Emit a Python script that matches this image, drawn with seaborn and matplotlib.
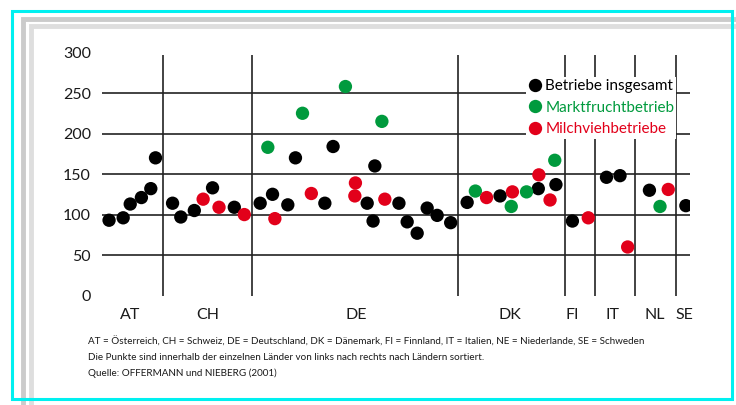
import pandas as pd
import matplotlib.pyplot as plt
import seaborn as sns
from matplotlib.patches import Rectangle

# Data (x = position along the axis, 0-100; y = value)
black_pos = [1.2, 3.6, 4.8, 6.7, 8.3, 9.1,
             12.0, 13.4, 15.7, 18.8, 22.5,
             26.9, 29.0, 31.6, 32.9, 37.9, 39.3, 45.1, 46.1, 46.4, 50.5, 51.9, 53.6, 55.3, 57.0, 59.3,
             62.1, 67.7, 74.2, 77.2,
             80.0,
             85.8, 88.1,
             93.1,
             99.3]
black_val = [93, 96, 113, 121, 132, 170,
             114, 97, 105, 133, 109,
             114, 125, 112, 170, 114, 184, 114, 92, 160, 114, 91, 77, 108, 99, 90,
             115, 123, 132, 137,
             92,
             146, 148,
             130,
             111]

green_pos = [28.2, 34.1, 41.4, 47.6, 63.5, 69.6, 72.2, 77.0, 94.9]
green_val = [183, 225, 258, 215, 129, 110, 128, 167, 110]

red_pos = [17.2, 19.9, 24.2, 29.4, 35.6, 43.0, 43.1, 48.1, 65.4, 69.8, 74.3, 76.2, 82.7, 89.4, 96.3]
red_val = [119, 109, 100, 95, 126, 123, 139, 119, 121, 128, 149, 118, 96, 60, 131]

countries = ['AT', 'CH', 'DE', 'DK', 'FI', 'IT', 'NL', 'SE']
country_pos = [4.8, 18.0, 43.3, 69.4, 79.9, 86.8, 94.0, 99.1]
separators = [10.4, 25.5, 60.5, 78.7, 83.8, 90.7, 97.6]
y_ticks = [0, 50, 100, 150, 200, 250, 300]

series = ['Betriebe insgesamt', 'Marktfruchtbetrieb', 'Milchviehbetriebe']
colors = ['#000000', '#009a3d', '#e2001a']

df = pd.concat([
    pd.DataFrame({'pos': black_pos, 'wert': black_val, 'gruppe': series[0]}),
    pd.DataFrame({'pos': green_pos, 'wert': green_val, 'gruppe': series[1]}),
    pd.DataFrame({'pos': red_pos, 'wert': red_val, 'gruppe': series[2]}),
])

sns.set_style('white')
plt.rcParams['font.family'] = ['Lato', 'DejaVu Sans']

fig = plt.figure(figsize=(7.36, 4.05), dpi=100)
W, H = 736, 405

# frame decoration (pixel coords -> figure fraction)
def frame(x0, y0, x1, y1, color, lw):
    fig.patches.append(Rectangle((x0 / W, 1 - y1 / H), (x1 - x0) / W, (y1 - y0) / H,
                                 transform=fig.transFigure, fill=False,
                                 edgecolor=color, linewidth=lw, zorder=0))

frame(23, 19, 760, 430, '#cbcbcb', 3.5)
frame(31, 26, 760, 430, '#dedede', 3.5)
frame(11.5, 10.5, 732, 399, '#00f0f0', 2.2)

ax = fig.add_axes([102 / W, 1 - 295.6 / H, (690 - 102) / W, (295.6 - 52.5) / H])
ax.set_facecolor('none')

for y in y_ticks[1:-1]:
    ax.axhline(y, color='#222222', linewidth=1.2, zorder=1)
ax.vlines(separators, 0, 297, color='#222222', linewidth=1.2, zorder=1)

sns.scatterplot(data=df, x='pos', y='wert', hue='gruppe', hue_order=series,
                palette=colors, s=92, linewidth=0, ax=ax, zorder=3)

ax.set_xlim(0, 100)
ax.set_ylim(0, 300)
ax.set_yticks(y_ticks)
ax.set_xticks(country_pos)
ax.set_xticklabels(countries)
ax.tick_params(axis='both', length=0, labelsize=11.5, colors='#1a1a1a')
ax.tick_params(axis='y', pad=8)
ax.tick_params(axis='x', pad=9)
ax.set_xlabel('')
ax.set_ylabel('')
for s in ax.spines.values():
    s.set_visible(False)

leg = ax.legend(loc='upper right', bbox_to_anchor=(0.977, 0.90), frameon=True,
                framealpha=1, edgecolor='none', fontsize=11, handletextpad=0.2,
                labelspacing=0.5, borderpad=0.15, handlelength=0.9,
                borderaxespad=0)
leg.get_frame().set_boxstyle('square', pad=0)
for txt, c in zip(leg.get_texts(), colors):
    txt.set_color(c)
leg.set_zorder(5)

notes = ['AT = Österreich, CH = Schweiz, DE = Deutschland, DK = Dänemark, FI = Finnland, '
         'IT = Italien, NE = Niederlande, SE = Schweden',
         'Die Punkte sind innerhalb der einzelnen Länder von links nach rechts nach Ländern sortiert.',
         'Quelle: OFFERMANN und NIEBERG (2001)']
for i, line in enumerate(notes):
    fig.text(88 / W, 1 - (342 + 15.5 * i) / H, line, fontsize=7.1, color='#1a1a1a',
             va='center', ha='left')

plt.savefig('out.png', dpi=100)
